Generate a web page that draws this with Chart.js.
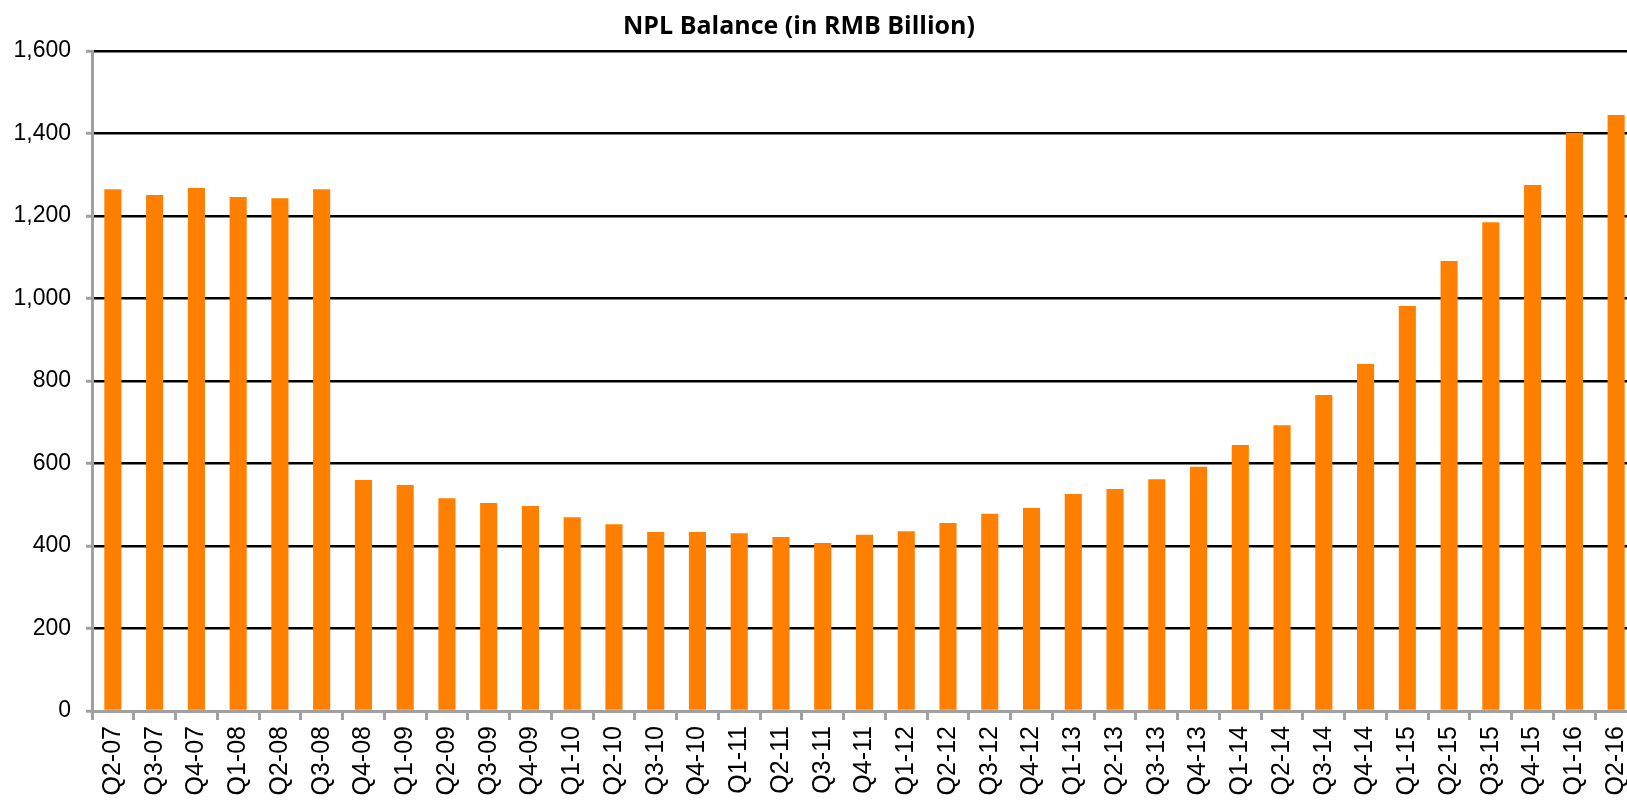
<!DOCTYPE html>
<html>
<head>
<meta charset="utf-8">
<script src="https://cdn.jsdelivr.net/npm/chart.js@4.4.1/dist/chart.umd.min.js"></script>
<style>
  html, body { margin: 0; padding: 0; background: #fff; overflow: hidden; }
  #wrap { position: relative; width: 1627px; height: 802px; overflow: hidden; }
  #box { position: absolute; left: 0; top: 0; width: 1660px; height: 802px; }
  #title {
    position: absolute; top: 7px; left: 799px; transform: translateX(-50%);
    font: bold 25px "Open Sans", sans-serif; color: #000; white-space: nowrap;
  }
</style>
</head>
<body>
<div id="wrap">
  <div id="box"><canvas id="npl"></canvas></div>
  <div id="title">NPL Balance (in RMB Billion)</div>
</div>
<script>
// NPL balance by quarter, RMB billion
const quarters = [
  "Q2-07", "Q3-07", "Q4-07", "Q1-08", "Q2-08", "Q3-08", "Q4-08", "Q1-09",
  "Q2-09", "Q3-09", "Q4-09", "Q1-10", "Q2-10", "Q3-10", "Q4-10", "Q1-11",
  "Q2-11", "Q3-11", "Q4-11", "Q1-12", "Q2-12", "Q3-12", "Q4-12", "Q1-13",
  "Q2-13", "Q3-13", "Q4-13", "Q1-14", "Q2-14", "Q3-14", "Q4-14", "Q1-15",
  "Q2-15", "Q3-15", "Q4-15", "Q1-16", "Q2-16"
];
const nplBalance = [
  1265, 1251, 1268, 1246, 1243, 1265, 560, 548,
  516, 504, 497, 470, 453, 434, 434, 431,
  422, 407, 427, 436, 456, 478, 492, 526,
  538, 562, 592, 645, 693, 766, 841, 982,
  1091, 1185, 1275, 1402, 1445
];
const yMax = 1600;
const yStep = 200;

const axisGrey = "#a0a0a0";
const tickFont = { family: "'Liberation Sans', Arial, sans-serif", size: 23 };

new Chart(document.getElementById("npl"), {
  type: "bar",
  data: {
    labels: quarters,
    datasets: [{
      data: nplBalance,
      backgroundColor: "#ff7f00",
      barPercentage: 0.41,
      categoryPercentage: 1.0
    }]
  },
  options: {
    responsive: true,
    maintainAspectRatio: false,
    animation: false,
    layout: { padding: { top: 51, right: 23, left: 0, bottom: 0 } },
    plugins: {
      legend: { display: false },
      title: { display: false },
      tooltip: { enabled: false }
    },
    scales: {
      x: {
        grid: {
          offset: true,
          drawOnChartArea: false,
          tickLength: 9,
          tickColor: axisGrey,
          tickWidth: 3
        },
        border: { color: axisGrey, width: 3 },
        ticks: {
          color: "#000",
          font: { ...tickFont, size: 25 },
          minRotation: 90,
          maxRotation: 90,
          autoSkip: false,
          padding: 6
        },
        afterFit: (scale) => { scale.height = 91; }
      },
      y: {
        min: 0,
        max: yMax,
        grid: {
          color: "#000",
          lineWidth: 2.5,
          tickLength: 6,
          tickColor: axisGrey,
          tickWidth: 3
        },
        border: { color: axisGrey, width: 3 },
        ticks: {
          stepSize: yStep,
          color: "#000",
          font: tickFont,
          padding: 15,
          callback: (v) => v.toLocaleString("en-US")
        },
        afterFit: (scale) => { scale.width = 92; }
      }
    }
  }
});
</script>
</body>
</html>
